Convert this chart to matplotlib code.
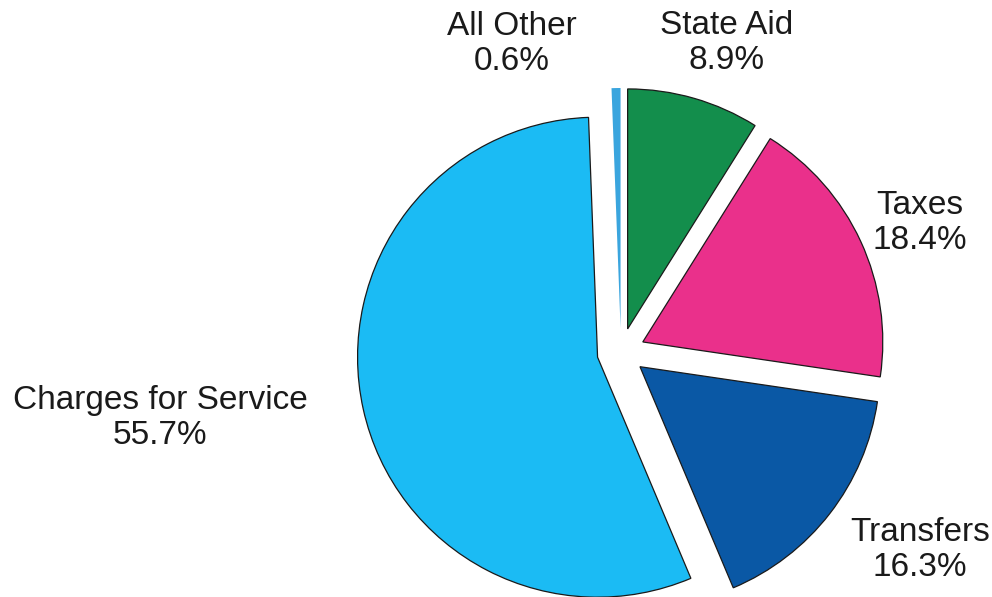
import matplotlib
matplotlib.use("Agg")
import matplotlib.pyplot as plt

# revenue shares, clockwise from the top
labels = ["All Other", "State Aid", "Taxes", "Transfers", "Charges for Service"]
shares = [0.6, 8.9, 18.4, 16.3, 55.7]
colors = ["#3AA5DE", "#138E4C", "#EA308B", "#0A58A5", "#1BBBF4"]

W, H = 992, 597
R = 240
fig = plt.figure(figsize=(W / 100, H / 100), dpi=100)
fig.patch.set_facecolor("white")
ax = fig.add_axes([0, 0, 1, 1])

# explode is in data units here (axes are in pixels), so scale by radius
wedges, _ = ax.pie(shares, colors=colors, explode=[0.1 * R] * len(shares),
                   startangle=90 + shares[0] * 3.6, counterclock=False,
                   center=(621, H - 352), radius=R, frame=True,
                   wedgeprops=dict(edgecolor="#1a1a1a", linewidth=0.9))
wedges[0].set_edgecolor("none")
ax.set_xlim(0, W)
ax.set_ylim(0, H)
ax.set_aspect("equal")
ax.axis("off")

# label positions (pixel coords from top-left)
label_pos = {
    "All Other": (512, 44),
    "State Aid": (727, 43),
    "Taxes": (920, 223),
    "Transfers": (920, 550),
    "Charges for Service": (160, 418),
}
for name, val in zip(labels, shares):
    x, y = label_pos[name]
    ax.text(x, H - y, f"{name}\n{val:.1f}%", ha="center", va="center",
            fontsize=24, family="Liberation Sans", color="#1a1a1a",
            linespacing=1.17)

fig.savefig("out.png", dpi=100, facecolor="white")
